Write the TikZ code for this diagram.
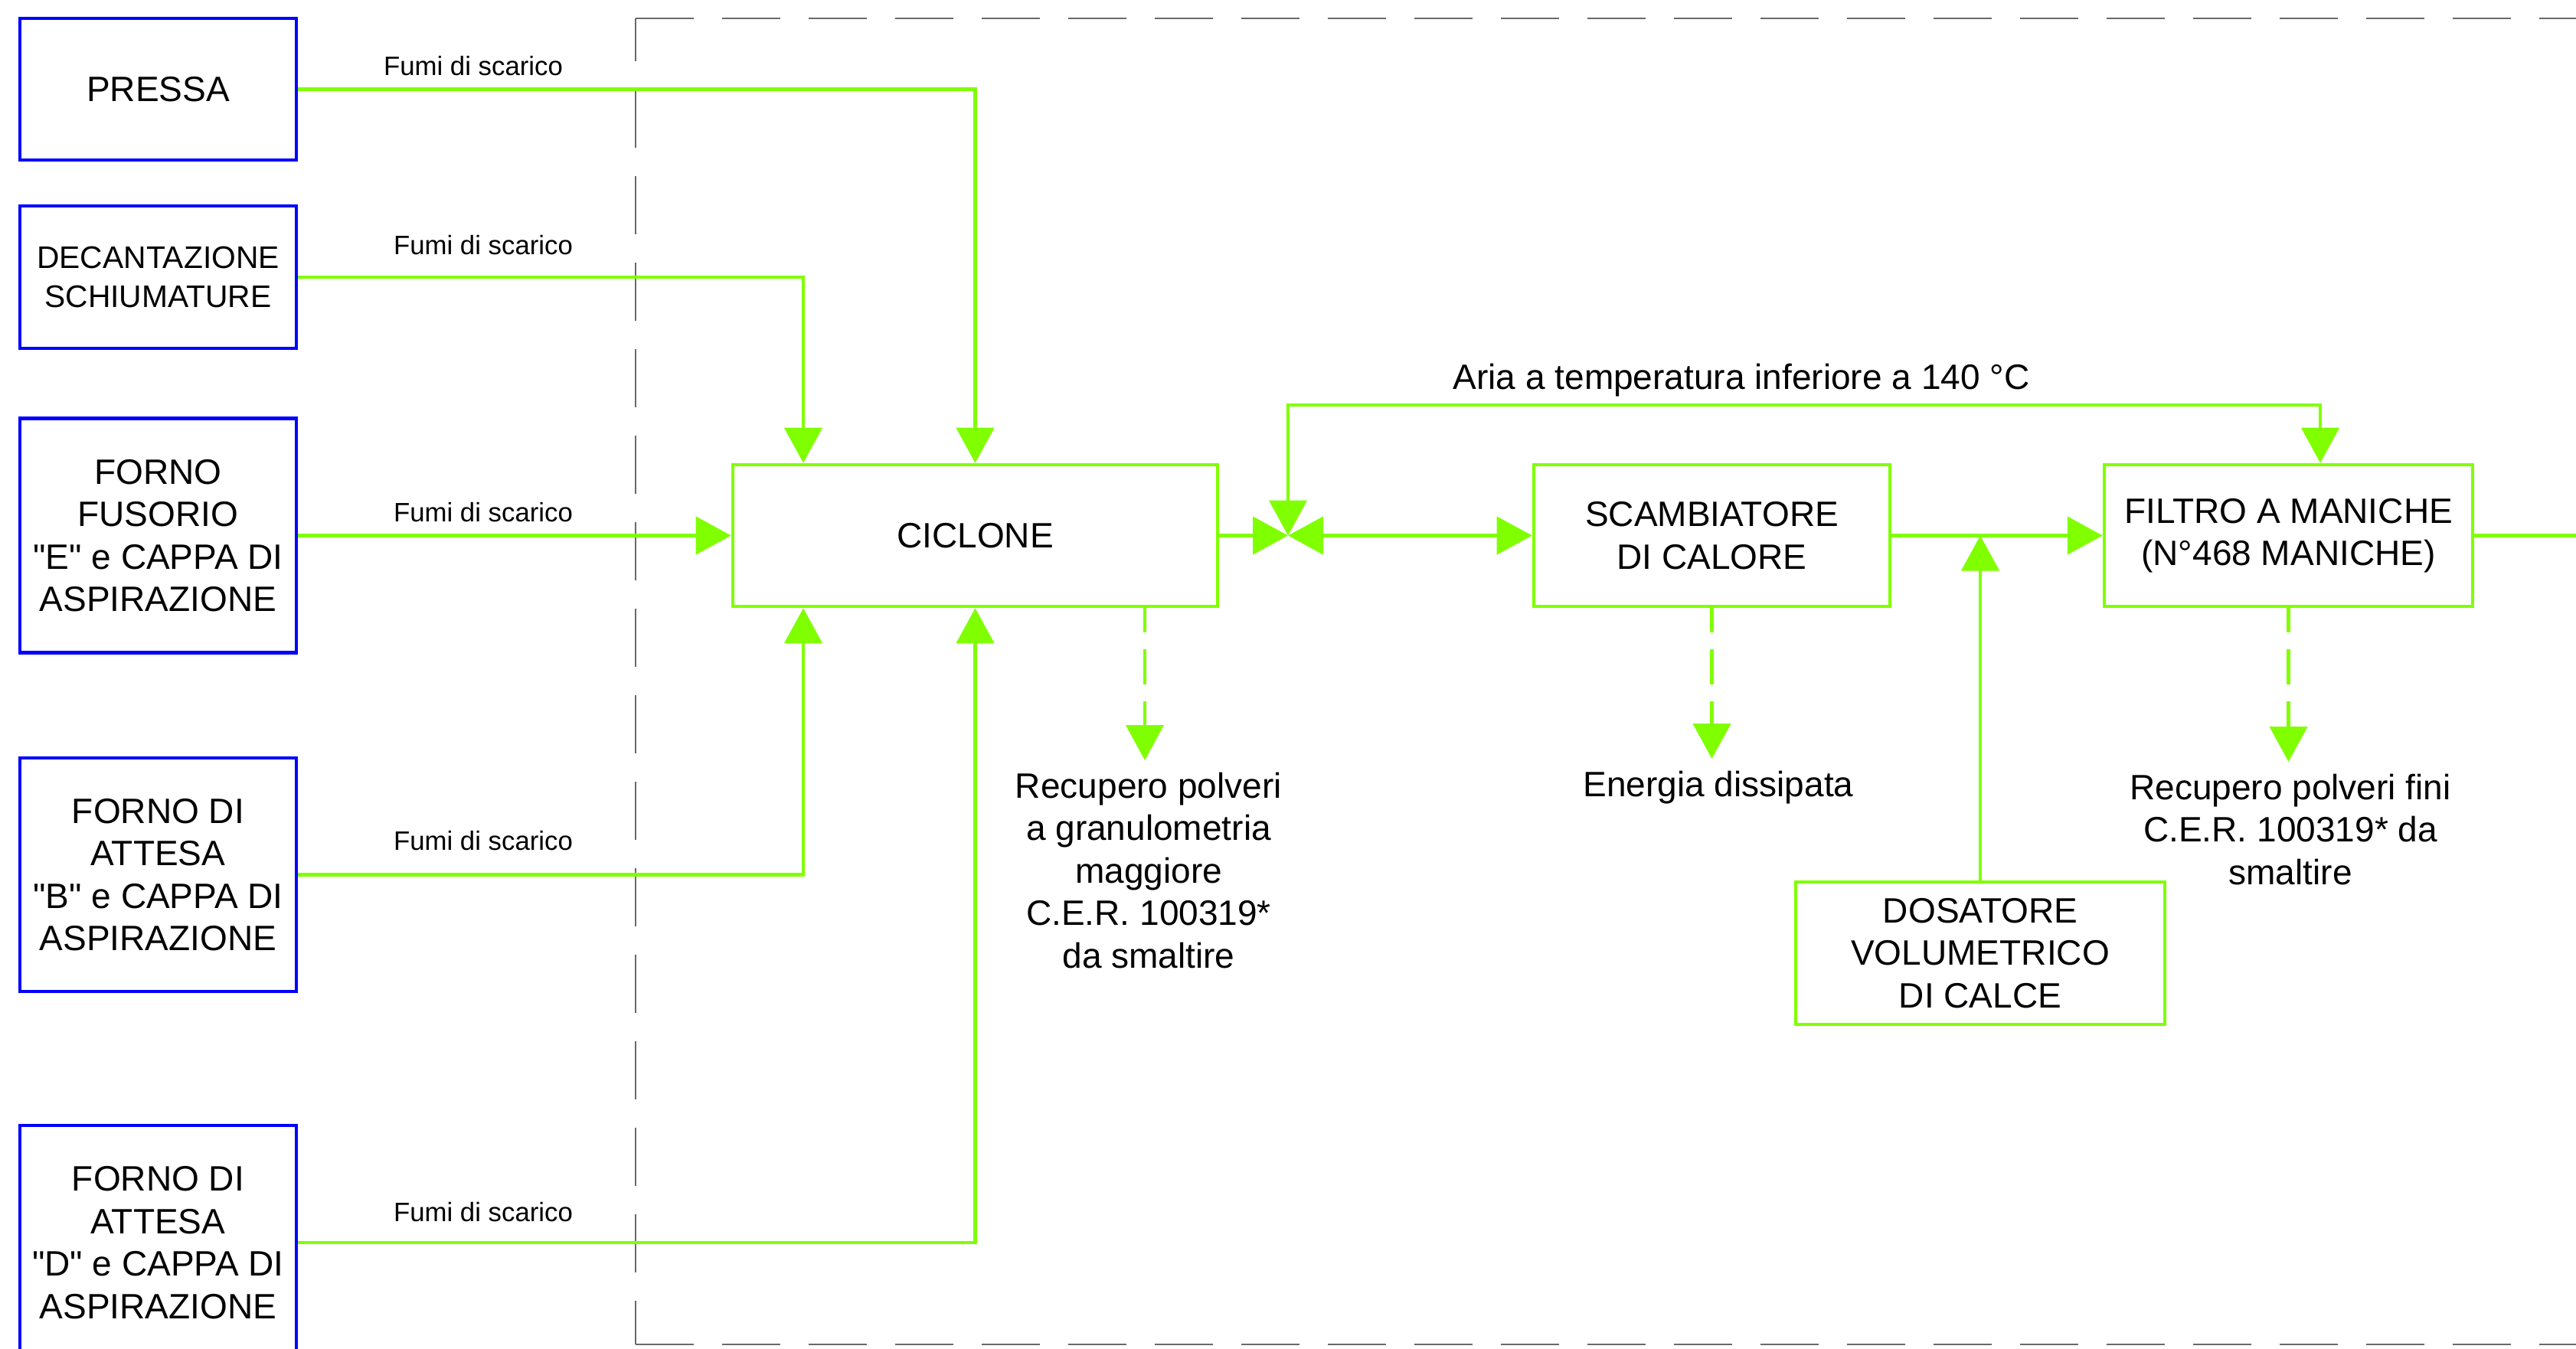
\documentclass[tikz,border=0pt]{standalone}
\usepackage{fontspec}
\setmainfont{Liberation Sans}[Ligatures=TeXOff]
\usetikzlibrary{arrows.meta}

\definecolor{verde}{RGB}{128,255,0}
\definecolor{blu}{RGB}{0,0,255}
\definecolor{grigio}{RGB}{105,105,105}

\begin{document}
\begin{tikzpicture}[>={Triangle[length=4.6mm, width=4.9mm]},
    testo/.style={font=\fontsize{13.1}{15.8}\selectfont},
    fonte/.style={testo, draw=blu, line width=1.2pt, minimum width=3.61cm, align=center, inner sep=0pt},
    impianto/.style={testo, draw=verde, line width=1.3pt, align=center, inner sep=0pt},
    flusso/.style={verde, line width=1.3pt, ->},
    scarto/.style={flusso, dash pattern=on 4.6mm off 2.2mm, dash phase=1.4mm},
    fumi/.style={font=\fontsize{9.9}{12}\selectfont, inner sep=0pt},
    nota/.style={testo, align=center, inner sep=1.5mm, anchor=north},
    cornice/.style={grigio, line width=0.6pt, dash pattern=on 7.6mm off 3.7mm}]

\path[use as bounding box, fill=white] (0,0) rectangle (33.64,-17.61);

% =============================================
% CORNICE TRATTEGGIATA (impianto)
% =============================================
\draw[cornice] (8.30,-0.24) -- (34,-0.24);
\draw[cornice, dash phase=2mm] (8.30,-0.24) -- (8.30,-17.56);
\draw[cornice] (8.30,-17.56) -- (34,-17.56);

% =============================================
% SORGENTI DI FUMI
% =============================================
\node[fonte, minimum height=1.85cm] (pressa) at (2.065,-1.165) {PRESSA};
\node[fonte, minimum height=1.86cm, font=\fontsize{11.6}{14.6}\selectfont] (decant) at (2.065,-3.62) {DECANTAZIONE\\SCHIUMATURE};
\node[fonte, minimum height=3.06cm] (fusorio) at (2.065,-6.995) {FORNO\\FUSORIO\\"E" e CAPPA DI\\ASPIRAZIONE};
\node[fonte, minimum height=3.05cm] (attesaB) at (2.065,-11.425) {FORNO DI\\ATTESA\\"B" e CAPPA DI\\ASPIRAZIONE};
\node[fonte, minimum height=3.06cm] (attesaD) at (2.065,-16.23) {FORNO DI\\ATTESA\\"D" e CAPPA DI\\ASPIRAZIONE};

% Etichette dei condotti
\node[fumi] (fumiP) at (6.18,-0.86) {Fumi di scarico};
\node[fumi] (fumiS) at (6.31,-3.20) {Fumi di scarico};
\node[fumi] (fumiE) at (6.31,-6.69) {Fumi di scarico};
\node[fumi] (fumiB) at (6.31,-10.98) {Fumi di scarico};
\node[fumi] (fumiD) at (6.31,-15.83) {Fumi di scarico};

% =============================================
% LINEA DI TRATTAMENTO
% =============================================
\node[impianto, minimum width=6.33cm, minimum height=1.85cm] (ciclone) at (12.735,-6.995) {CICLONE};
\node[impianto, minimum width=4.65cm, minimum height=1.85cm] (scamb) at (22.355,-6.995) {SCAMBIATORE\\DI CALORE};
\node[impianto, minimum width=4.81cm, minimum height=1.85cm] (filtro) at (29.885,-6.995) {FILTRO A MANICHE\\(N°468 MANICHE)};
\node[impianto, minimum width=4.82cm, minimum height=1.86cm] (dosatore) at (25.86,-12.45) {DOSATORE\\VOLUMETRICO\\DI CALCE};

\coordinate (nodo) at (16.82,-6.995);
\coordinate (aria) at (16.82,-5.29);
\coordinate (uscita) at (33.9,-6.995);

% Fumi verso il ciclone
\draw[flusso] (pressa.east) -| (ciclone.north);
\draw[flusso] (decant.east) -| ([xshift=-2.245cm]ciclone.north);
\draw[flusso] (fusorio.east) -- (ciclone.west);
\draw[flusso] (attesaB.east) -| ([xshift=-2.245cm]ciclone.south);
\draw[flusso] (attesaD.east) -| (ciclone.south);

% Ciclone -> scambiatore -> filtro
\draw[flusso] (ciclone.east) -- (nodo);
\draw[flusso, <->] (nodo) -- (scamb.west);
\draw[flusso, <->] (nodo) -- (aria) -| ([xshift=4.15mm]filtro.north);
\node[testo] (arialab) at (22.74,-4.97) {Aria a temperatura inferiore a 140 °C};
\draw[flusso] (scamb.east) -- (filtro.west);
\draw[flusso] (dosatore.north) -- (dosatore.north |- scamb.east);
\draw[flusso, -] (filtro.east) -- (uscita);

% Scarti
\node[nota] (recupero) at (15.00,-9.93) {Recupero polveri\\a granulometria\\maggiore\\C.E.R. 100319*\\da smaltire};
\draw[scarto] ([xshift=2.215cm]ciclone.south) -- ([xshift=2.215cm]ciclone.south |- recupero.north);

\node[nota] (energia) at (22.44,-9.91) {Energia dissipata};
\draw[scarto] (scamb.south) -- (scamb.south |- energia.north);

\node[nota] (fini) at (29.91,-9.95) {Recupero polveri fini\\C.E.R. 100319* da\\smaltire};
\draw[scarto] (filtro.south) -- (filtro.south |- fini.north);

\end{tikzpicture}
\end{document}
